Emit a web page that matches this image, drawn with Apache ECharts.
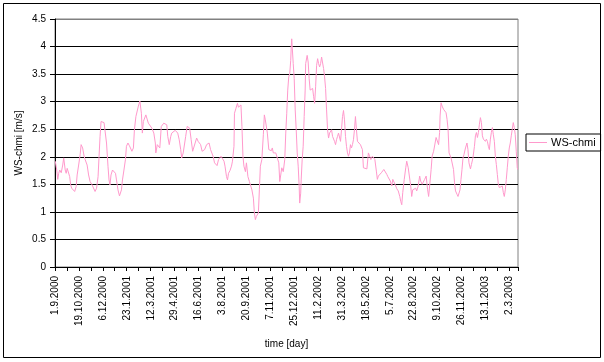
<!DOCTYPE html>
<html>
<head>
<meta charset="utf-8">
<script src="https://cdn.jsdelivr.net/npm/echarts@6/dist/echarts.min.js"></script>
<style>html,body{margin:0;padding:0;background:#fff}#c{width:604px;height:362px}</style>
</head>
<body>
<div id="c"></div>
<script>
// Category range: daily dates starting 1.9.2000
const startDate = [2000, 9, 1];
const dayCount = 930;
const seriesName = 'WS-chmi';
const yTicks = [0, 0.5, 1, 1.5, 2, 2.5, 3, 3.5, 4, 4.5];

// Sampled day indices (days since 1.9.2000) and the wind speed read at them [m/s]
const sampleDaysA = [0,3,5,7,9,12,15,17,19,20,22,24,27,29,31,33,37,39,42,44,47,50,52,55,58,60,64,67,70,74,77,80,83,86,88,90,92,95,98,100,103,106,108,110,112,115,118,121,123,126,129,131,133,135,138,141,143,146,149,151,154,157,159,162,165,167,170,173,175,177,179,182,185,187,191,194,198,201,202,205,208,210,213,216,218,221,224,226,229,232,234,238,241,244,246,249,252,254,257,260,262,265,268,270,273,276,279,281,284,287,289,292,295,297,300];
const windA = [1.92,1.76,1.59,1.70,1.76,1.71,1.85,1.98,1.98,1.76,1.70,1.79,1.76,1.64,1.49,1.43,1.40,1.37,1.46,1.67,1.85,2.04,2.22,2.16,2.01,1.95,1.85,1.67,1.55,1.49,1.46,1.37,1.43,1.64,2.01,2.37,2.64,2.66,2.62,2.61,2.25,1.82,1.58,1.49,1.67,1.76,1.76,1.70,1.58,1.40,1.29,1.27,1.40,1.58,1.76,1.95,2.19,2.25,2.20,2.19,2.10,2.16,2.49,2.73,2.73,2.92,3.01,2.79,2.43,2.64,2.61,2.76,2.73,2.61,2.61,2.52,2.43,2.25,2.07,2.22,2.19,2.16,2.55,2.58,2.61,2.61,2.58,2.37,2.22,2.37,2.43,2.46,2.48,2.49,2.43,2.31,2.13,1.98,2.07,2.25,2.37,2.55,2.55,2.52,2.31,2.10,2.13,2.25,2.34,2.28,2.31,2.22,2.10,2.07,2.13];

const sampleDaysB = [301,304,307,309,312,315,317,320,323,325,328,331,333,336,339,341,344,346,348,351,354,356,359,360,363,366,368,371,373,375,377,379,382,384,387,390,392,395,398,400,402,404,406,408,410,412,415,418,420,422,424,426,429,431,434,436,438,441,443,446,449,451,453,455,458,461,463,465,467,469,471,473,474,475,477,478,480,482,484,486,488,490,491,493,494,496,498,500,502,503,506,508,510,512,514,517,519,521,523,525,527,529,531,533,535,537,539,541,543,545,547,549,551,553,555,557,559,561,563,565,567,569,571,573,575,577,579,581,583,585,587,589,591,593,595,597,599,601,603,605,607,609];
const windB = [2.16,2.22,2.20,2.25,2.13,2.10,2.01,1.89,1.86,1.84,1.95,1.92,2.01,1.98,1.92,1.83,1.64,1.58,1.70,1.75,1.83,1.92,2.19,2.79,2.88,2.97,2.90,2.88,2.94,2.55,2.01,1.83,1.73,1.89,1.64,1.55,1.52,1.40,1.25,0.98,0.86,0.92,0.89,0.98,1.40,1.83,1.95,2.40,2.76,2.67,2.64,2.43,2.13,2.10,2.11,2.16,2.07,2.07,2.07,2.05,1.89,1.55,1.55,1.80,1.73,1.95,2.43,2.79,3.21,3.45,3.51,3.75,3.99,4.14,4.17,3.69,3.42,2.85,2.49,2.07,1.83,1.46,1.16,1.34,1.58,1.95,2.19,2.73,3.21,3.69,3.84,3.72,3.42,3.21,3.24,3.24,3.09,2.97,3.27,3.66,3.78,3.69,3.63,3.69,3.81,3.78,3.60,3.45,3.24,2.85,2.49,2.34,2.43,2.40,2.49,2.37,2.34,2.28,2.22,2.31,2.37,2.43,2.40,2.28,2.49,2.73,2.84,2.67,2.37,2.19,2.07,2.01,2.07,2.22,2.16,2.22,2.31,2.49,2.73,2.49,2.28,2.25];

const sampleDaysC = [613,615,617,619,621,623,626,629,631,634,637,639,642,645,647,649,651,653,655,658,660,663,666,668,671,673,676,678,681,684,686,689,692,694,696,698,701,704,706,709,712,714,716,718,721,724,726,729,732,734,737,740,742,745,748,750,752,755,757,760,763,765,768,770,772,773,775,777,780,783,785,787,789,791,793,795,798,800,802,804,807,809,811,813,815,817,819,821,824,827,829,831,834,836,839,842,844,846,848,850,852,854,856,858,860,862,864,866,868,870,872,874,876,878,880,882,884,886,888,890,892,894,896,898,900,902,904,906,908,910,912,914,916,918,920,922,924,926,928,929];
const windC = [2.22,2.19,2.13,1.80,1.77,1.80,1.78,2.07,2.07,1.95,2.01,1.98,1.95,1.74,1.59,1.65,1.68,1.64,1.71,1.68,1.77,1.74,1.68,1.64,1.62,1.56,1.47,1.59,1.56,1.47,1.42,1.38,1.28,1.19,1.13,1.35,1.59,1.80,1.92,1.80,1.82,1.47,1.28,1.40,1.40,1.43,1.38,1.47,1.65,1.56,1.50,1.47,1.59,1.65,1.40,1.28,1.47,1.77,2.01,2.10,2.25,2.35,2.32,2.22,2.44,2.74,2.98,2.92,2.86,2.86,2.80,2.68,2.50,2.07,2.04,1.98,1.95,1.77,1.53,1.38,1.32,1.28,1.25,1.40,1.59,1.77,1.98,2.04,2.16,2.25,2.13,1.89,1.78,1.86,1.98,2.19,2.38,2.44,2.35,2.44,2.59,2.71,2.62,2.38,2.32,2.32,2.28,2.32,2.28,2.19,2.13,2.32,2.44,2.53,2.40,2.28,2.01,1.86,1.68,1.50,1.44,1.47,1.44,1.47,1.35,1.28,1.40,1.59,1.80,2.01,2.16,2.25,2.38,2.50,2.62,2.53,2.40,2.10,1.80,1.77];

// Build categories (d.m.yyyy)
const categories = [];
const t0 = Date.UTC(startDate[0], startDate[1] - 1, startDate[2]);
for (let i = 0; i < dayCount; i++) {
  const d = new Date(t0 + i * 86400000);
  categories.push(d.getUTCDate() + '.' + (d.getUTCMonth() + 1) + '.' + d.getUTCFullYear());
}
const days = sampleDaysA.concat(sampleDaysB, sampleDaysC);
const wind = windA.concat(windB, windC);
const seriesData = days.map((d, i) => [d, wind[i]]);

const FONT = 'Liberation Sans, Arial, sans-serif';
const chart = echarts.init(document.getElementById('c'), null, {renderer: 'canvas'});
chart.setOption({
  animation: false,
  backgroundColor: '#fff',
  textStyle: {fontFamily: FONT},
  graphic: [{
    type: 'rect', silent: true, z: 100,
    shape: {x: 3.5, y: 3.5, width: 597, height: 354},
    style: {fill: 'none', stroke: '#000', lineWidth: 1}
  }],
  grid: {left: 55, right: 86, top: 19, bottom: 95, show: true, borderColor: '#808080', borderWidth: 1, backgroundColor: '#fff'},
  legend: {
    data: [seriesName], left: 526, top: 134, icon: 'rect', itemWidth: 18, itemHeight: 1,
    borderColor: '#000', borderWidth: 1, padding: [3, 5, 3, 3], itemGap: 5,
    textStyle: {fontFamily: FONT, fontSize: 11, color: '#000', padding: [0, 0, 0, -1]}
  },
  xAxis: {
    type: 'category', data: categories, boundaryGap: true,
    name: 'time [day]', nameLocation: 'middle', nameGap: 72, nameMoveOverlap: false,
    nameTextStyle: {fontFamily: FONT, fontSize: 10, color: '#000'},
    axisLine: {lineStyle: {color: '#000', width: 1}},
    axisTick: {show: true, interval: 23, length: 4, lineStyle: {color: '#000'}},
    axisLabel: {interval: 47, rotate: 90, fontSize: 10, color: '#000', margin: 9, fontFamily: FONT},
    splitLine: {show: false}
  },
  yAxis: {
    type: 'value', min: yTicks[0], max: yTicks[yTicks.length - 1], interval: 0.5,
    name: 'WS-chmi [m/s]', nameLocation: 'middle', nameGap: 31, nameMoveOverlap: false,
    nameTextStyle: {fontFamily: FONT, fontSize: 10, color: '#000'},
    axisLine: {show: true, lineStyle: {color: '#000', width: 1}},
    axisTick: {show: true, length: 5, lineStyle: {color: '#000'}},
    axisLabel: {fontSize: 10, color: '#000', margin: 9, fontFamily: FONT},
    splitLine: {show: true, lineStyle: {color: ['#000','#000','#000','#000','#000','#000','#000','#000','#000','#808080'], width: 1}}
  },
  series: [{
    name: seriesName, type: 'line', data: seriesData, showSymbol: false, symbol: 'none',
    lineStyle: {color: '#FF99CC', width: 1}, itemStyle: {color: '#FF99CC'}, z: 3
  }]
});
</script>
</body>
</html>
